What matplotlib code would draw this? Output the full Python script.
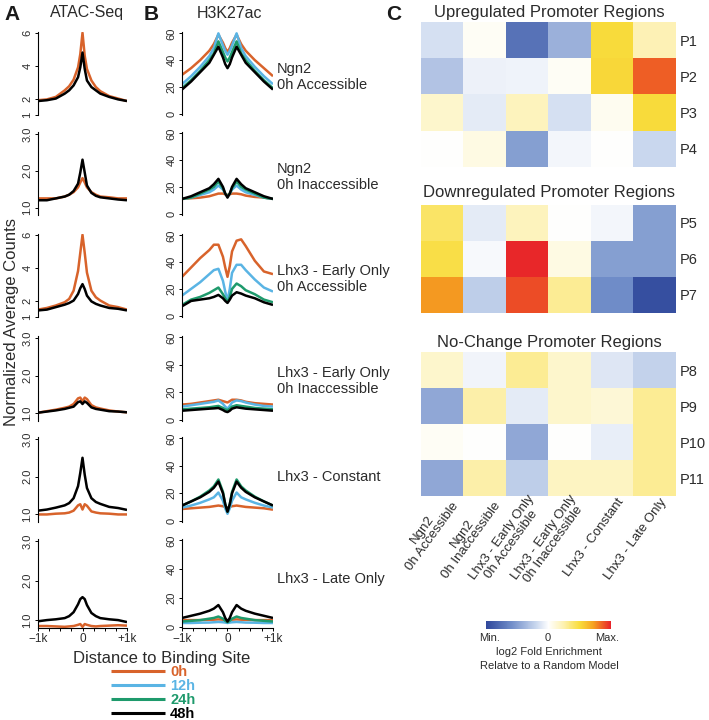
import numpy as np
import matplotlib.pyplot as plt
from matplotlib.colors import LinearSegmentedColormap

# ------------------------------------------------------------------
# fonts / canvas
plt.rcParams['font.family'] = ['Liberation Sans', 'DejaVu Sans']
W, H = 709, 720


def box(l, t, r, b):
    # pixel box -> figure rect
    return [l / W, 1 - b / H, (r - l) / W, (b - t) / H]


def fx(x):
    return x / W


def fy(y):
    return 1 - y / H


# ------------------------------------------------------------------
# data
dist = [-1000, -800, -600, -400, -300, -200, -100, -50, 0,
        50, 100, 200, 300, 400, 600, 800, 1000]

groups = ['Ngn2\n0h Accessible', 'Ngn2\n0h Inaccessible',
          'Lhx3 - Early Only\n0h Accessible', 'Lhx3 - Early Only\n0h Inaccessible',
          'Lhx3 - Constant', 'Lhx3 - Late Only']
times = ['0h', '12h', '24h', '48h']

atac_0h = [
    [1.9, 1.95, 2.1, 2.5, 2.75, 3.15, 3.9, 4.7, 6.0, 4.6, 3.8, 3.1, 2.7, 2.45, 2.15, 2.0, 1.85],
    [1.25, 1.25, 1.25, 1.3, 1.35, 1.42, 1.55, 1.68, 1.8, 1.68, 1.55, 1.42, 1.35, 1.3, 1.28, 1.25, 1.25],
    [1.45, 1.55, 1.7, 1.9, 2.1, 2.6, 3.8, 4.9, 6.0, 4.9, 3.7, 2.6, 2.2, 2.0, 1.7, 1.6, 1.45],
    [1.02, 1.06, 1.1, 1.15, 1.18, 1.25, 1.4, 1.42, 1.32, 1.42, 1.38, 1.22, 1.16, 1.13, 1.08, 1.05, 1.03],
    [1.0, 1.0, 1.02, 1.03, 1.05, 1.1, 1.24, 1.27, 1.13, 1.27, 1.23, 1.08, 1.05, 1.03, 1.02, 1.0, 1.0],
    [0.85, 0.85, 0.84, 0.83, 0.84, 0.85, 0.88, 0.9, 0.83, 0.9, 0.88, 0.85, 0.84, 0.85, 0.86, 0.87, 0.86],
]
atac_48h = [
    [1.85, 1.9, 2.0, 2.3, 2.5, 2.8, 3.3, 3.9, 4.8, 3.8, 3.1, 2.7, 2.5, 2.3, 2.1, 1.95, 1.85],
    [1.2, 1.2, 1.25, 1.3, 1.35, 1.45, 1.65, 1.95, 2.3, 1.95, 1.6, 1.4, 1.32, 1.28, 1.25, 1.22, 1.2],
    [1.4, 1.45, 1.6, 1.75, 1.85, 2.0, 2.4, 2.75, 3.0, 2.7, 2.3, 1.95, 1.8, 1.7, 1.55, 1.5, 1.4],
    [1.02, 1.05, 1.08, 1.12, 1.15, 1.18, 1.3, 1.32, 1.25, 1.32, 1.28, 1.16, 1.12, 1.1, 1.06, 1.05, 1.03],
    [1.1, 1.13, 1.18, 1.24, 1.3, 1.43, 1.75, 2.1, 2.5, 2.05, 1.7, 1.43, 1.33, 1.28, 1.2, 1.17, 1.12],
    [0.97, 1.0, 1.02, 1.05, 1.1, 1.2, 1.4, 1.53, 1.58, 1.53, 1.38, 1.18, 1.1, 1.05, 1.02, 1.0, 0.95],
]

k27_0h = [
    [29, 34, 40, 47, 52, 59, 53, 49, 46, 49, 53, 59, 52, 47, 40, 34, 28],
    [11, 11.5, 12, 13, 14, 15, 15, 14.5, 14, 14.5, 15, 15, 14.5, 13.5, 12.5, 12, 11],
    [29, 36, 43, 49, 53, 53, 44, 36, 29, 37, 48, 56, 57, 52, 41, 33, 31],
    [11, 11.5, 12.5, 13.5, 14, 14.5, 13.5, 13, 12.5, 13.5, 14.5, 14.5, 14, 13, 12, 11.5, 11],
    [8.5, 9, 9.5, 10, 10.5, 11, 10.5, 10, 9.5, 10, 10.5, 11, 10.5, 10, 9.5, 9, 8],
    [4.5, 4.5, 4.5, 4.7, 4.8, 5, 4.8, 4.5, 4.3, 4.5, 4.8, 5, 4.8, 4.7, 4.5, 4.5, 4.5],
]
k27_12h = [
    [22, 28, 35, 43, 49, 60, 51, 47, 44, 47, 51, 60, 49, 43, 35, 28, 22],
    [11, 12, 14, 16, 18, 21, 18, 15, 13, 15, 18, 21, 18, 16, 14, 12, 11],
    [15, 20, 25, 31, 34, 35, 26, 18, 11, 20, 32, 38, 38, 34, 27, 21, 18],
    [9.5, 10.5, 11.5, 12.5, 13, 14, 11.5, 9.5, 8, 10, 12.5, 14, 13.5, 12.5, 11, 10, 9.5],
    [9.5, 11, 13, 15.5, 17, 20.5, 14.5, 9, 5, 9, 14.5, 20.5, 17, 15.5, 13, 11, 9.5],
    [2.5, 2.5, 2.7, 2.8, 3, 3.2, 3, 2.8, 2.5, 2.8, 3, 3.2, 3, 2.8, 2.7, 2.5, 2.5],
]
k27_24h = [
    [19, 25, 32, 40, 45, 54, 46, 42, 39, 42, 46, 54, 45, 40, 32, 25, 19],
    [11, 12, 15, 18, 20, 24, 19, 15, 13, 15, 19, 24, 20, 18, 15, 12, 11],
    [8, 12, 14, 17, 19, 21, 16, 13, 10, 14, 20, 24, 22, 19, 16, 12, 10],
    [7.5, 8, 8.5, 9, 9.5, 10, 8.5, 7.5, 7, 8, 9.5, 10.5, 10, 9.5, 8.5, 8, 7.5],
    [11, 14, 17.5, 22, 25, 30, 21, 12, 6.5, 12, 21, 30, 25, 22, 17.5, 14, 11],
    [3.5, 4, 4.5, 5.5, 6, 7, 5.5, 4, 3, 4, 5.5, 7, 6, 5.5, 4.5, 4, 3.5],
]
k27_48h = [
    [18, 24, 31, 38, 44, 50, 42, 37, 34, 37, 42, 50, 44, 38, 31, 24, 18],
    [11, 13, 16, 19, 22, 26, 20, 15, 12, 15, 20, 26, 22, 19, 16, 13, 11],
    [7, 11, 12, 13, 14, 15.5, 13, 11, 9.5, 12, 15, 17.5, 16.5, 15, 13, 10, 8],
    [6.5, 7, 7.5, 8, 8.2, 8.5, 7, 6, 5.5, 6.5, 8, 9, 8.5, 8, 7.5, 7, 6.5],
    [11, 14, 17, 21, 24, 28.5, 20, 12, 6.5, 12, 20, 28.5, 24, 21, 17, 14, 11],
    [6, 7.5, 9, 11, 12.5, 15, 10, 6, 3.5, 6, 10, 15, 12.5, 11, 9, 7.5, 6],
]

# log2 fold enrichment, scaled to [-1 (min), 1 (max)]
up_rows = ['P1', 'P2', 'P3', 'P4']
up_vals = [
    [-0.15, 0.03, -0.75, -0.4, 0.5, 0.22],
    [-0.3, -0.07, -0.06, 0.03, 0.52, 0.86],
    [0.15, -0.1, 0.2, -0.15, 0.04, 0.5],
    [0.0, 0.08, -0.5, -0.04, 0.0, -0.2],
]
down_rows = ['P5', 'P6', 'P7']
down_vals = [
    [0.4, -0.1, 0.2, 0.0, -0.04, -0.5],
    [0.47, -0.03, 0.98, 0.08, -0.5, -0.5],
    [0.74, -0.25, 0.9, 0.3, -0.6, -0.95],
]
nc_rows = ['P8', 'P9', 'P10', 'P11']
nc_vals = [
    [0.15, -0.05, 0.3, 0.15, -0.12, -0.22],
    [-0.45, 0.25, -0.1, 0.15, 0.12, 0.3],
    [0.03, 0.0, -0.45, 0.0, -0.08, 0.3],
    [-0.45, 0.25, -0.25, 0.18, 0.18, 0.3],
]

# ------------------------------------------------------------------
# style
col_t = {'0h': '#d8632b', '12h': '#5ab4e4', '24h': '#1e9a6c', '48h': '#000000'}
txt = '#2b2b2b'
lw = 1.8
cmap = LinearSegmentedColormap.from_list('enr', [
    (0.0, '#2f479b'), (0.2, '#6f8cc8'), (0.4, '#c9d7ee'), (0.5, '#ffffff'),
    (0.62, '#fdf1b0'), (0.75, '#f9dd3c'), (0.86, '#f6a321'), (1.0, '#e8202a')])

row_top = [32, 132, 234, 336, 437, 539]
row_bot = [115, 215, 317, 421, 522, 628]


def style_axis(ax, last):
    for s in ['top', 'right']:
        ax.spines[s].set_visible(False)
    ax.spines['left'].set_linewidth(0.8)
    ax.set_xlim(-1000, 1000)
    ax.tick_params(axis='y', labelrotation=90, labelsize=8, length=2.5,
                   width=0.7, pad=1.5, labelcolor=txt)
    for lab in ax.get_yticklabels():
        lab.set_va('center')
    if last:
        ax.spines['bottom'].set_linewidth(0.8)
        ax.set_xticks([-1000, 0, 1000], ['\u22121k', '0', '+1k'])
        ax.set_xticks([-750, -500, -250, 250, 500, 750], minor=True)
        ax.tick_params(axis='x', which='both', length=2.5, width=0.7,
                       labelsize=8.5, pad=1, labelcolor=txt)
    else:
        ax.spines['bottom'].set_visible(False)
        ax.set_xticks([])


fig = plt.figure(figsize=(7.09, 7.2), dpi=100)

# ---- panel A: ATAC-Seq
for i in range(6):
    ax = fig.add_axes(box(38, row_top[i], 127, row_bot[i]))
    ax.plot(dist, atac_0h[i], color=col_t['0h'], lw=lw, solid_capstyle='butt')
    ax.plot(dist, atac_48h[i], color=col_t['48h'], lw=lw, solid_capstyle='butt')
    if i in (0, 2):
        ax.set_ylim(1, 6.05)
        ax.set_yticks([1, 2, 4, 6], ['1', '2', '4', '6'])
    else:
        ax.set_ylim(0.8, 3.05)
        ax.set_yticks([1, 2, 3], ['1.0', '2.0', '3.0'])
    style_axis(ax, i == 5)

# ---- panel B: H3K27ac
k27 = [k27_0h, k27_12h, k27_24h, k27_48h]
for i in range(6):
    ax = fig.add_axes(box(182, row_top[i], 273, row_bot[i]))
    for t, series in zip(times, k27):
        ax.plot(dist, series[i], color=col_t[t], lw=lw, label=t,
                solid_capstyle='butt')
    ax.set_ylim(-1, 61)
    ax.set_yticks([0, 20, 40, 60], ['0', '20', '40', '60'])
    style_axis(ax, i == 5)
    two = '\n' in groups[i]
    fig.text(fx(277), fy(row_top[i] + (45 if two else 40)), groups[i],
             ha='left', va='center', fontsize=10.5, color=txt, linespacing=1.15)
    if i == 5:
        handles, labels = ax.get_legend_handles_labels()

# legend
leg = fig.legend(handles, labels, loc='upper left',
                 bbox_to_anchor=(fx(111), fy(665)), frameon=False,
                 handlelength=3.7, handletextpad=0.35, labelspacing=0.0,
                 borderpad=0, borderaxespad=0,
                 prop={'weight': 'bold', 'size': 10.5}, labelcolor='linecolor')
for ln in leg.get_lines():
    ln.set_linewidth(2.2)

# shared labels panel A/B
fig.text(fx(12), fy(322), 'Normalized Average Counts', rotation=90,
         ha='center', va='center', fontsize=12, color=txt)
fig.text(fx(162), fy(658), 'Distance to Binding Site', ha='center',
         va='center', fontsize=12, color=txt)
fig.text(fx(87), fy(13), 'ATAC-Seq', ha='center', va='center', fontsize=11.5, color=txt)
fig.text(fx(230), fy(13), 'H3K27ac', ha='center', va='center', fontsize=11.5, color=txt)

for letter, x, y in [('A', 4, 14), ('B', 144, 14), ('C', 386, 14)]:
    fig.text(fx(x), fy(y), letter, ha='left', va='center', fontsize=15,
             weight='bold', color='#1a1a1a')

# ---- panel C: heatmaps
blocks = [
    (up_vals, up_rows, 22, 167, 'Upregulated Promoter Regions', 12),
    (down_vals, down_rows, 205, 313, 'Downregulated Promoter Regions', 193),
    (nc_vals, nc_rows, 352, 496, 'No-Change Promoter Regions', 342),
]
for vals, rows, top, bot, title, ty in blocks:
    ax = fig.add_axes(box(421, top, 676, bot))
    im = ax.imshow(np.array(vals), cmap=cmap, vmin=-1, vmax=1,
                   aspect='auto', interpolation='nearest')
    ax.set_xticks([])
    ax.yaxis.tick_right()
    ax.set_yticks(range(len(rows)), rows)
    ax.tick_params(axis='y', length=0, labelsize=10.5, pad=2.5, labelcolor=txt)
    for s in ax.spines.values():
        s.set_visible(False)
    fig.text(fx(549), fy(ty), title, ha='center', va='center',
             fontsize=12, color=txt)

# column labels under the last heatmap
col_w = (676 - 421) / 6
for j, g in enumerate(groups):
    cx = 421 + (j + 0.5) * col_w + 9
    fig.text(fx(cx), fy(500), g, rotation=54, rotation_mode='anchor',
             ha='right', va='center', multialignment='center',
             fontsize=9.5, color=txt, linespacing=1.0)

# colour bar
cax = fig.add_axes(box(486, 621, 611, 629))
cb = fig.colorbar(im, cax=cax, orientation='horizontal')
cb.set_ticks([])
cb.outline.set_visible(False)
fig.text(fx(490), fy(638), 'Min.', ha='center', va='center', fontsize=8, color=txt)
fig.text(fx(548), fy(638), '0', ha='center', va='center', fontsize=8, color=txt)
fig.text(fx(607), fy(638), 'Max.', ha='center', va='center', fontsize=8, color=txt)
fig.text(fx(549), fy(652), 'log2 Fold Enrichment', ha='center', va='center',
         fontsize=8, color=txt)
fig.text(fx(549), fy(666), 'Relatve to a Random Model', ha='center',
         va='center', fontsize=8, color=txt)

fig.savefig('out.png', dpi=100)
